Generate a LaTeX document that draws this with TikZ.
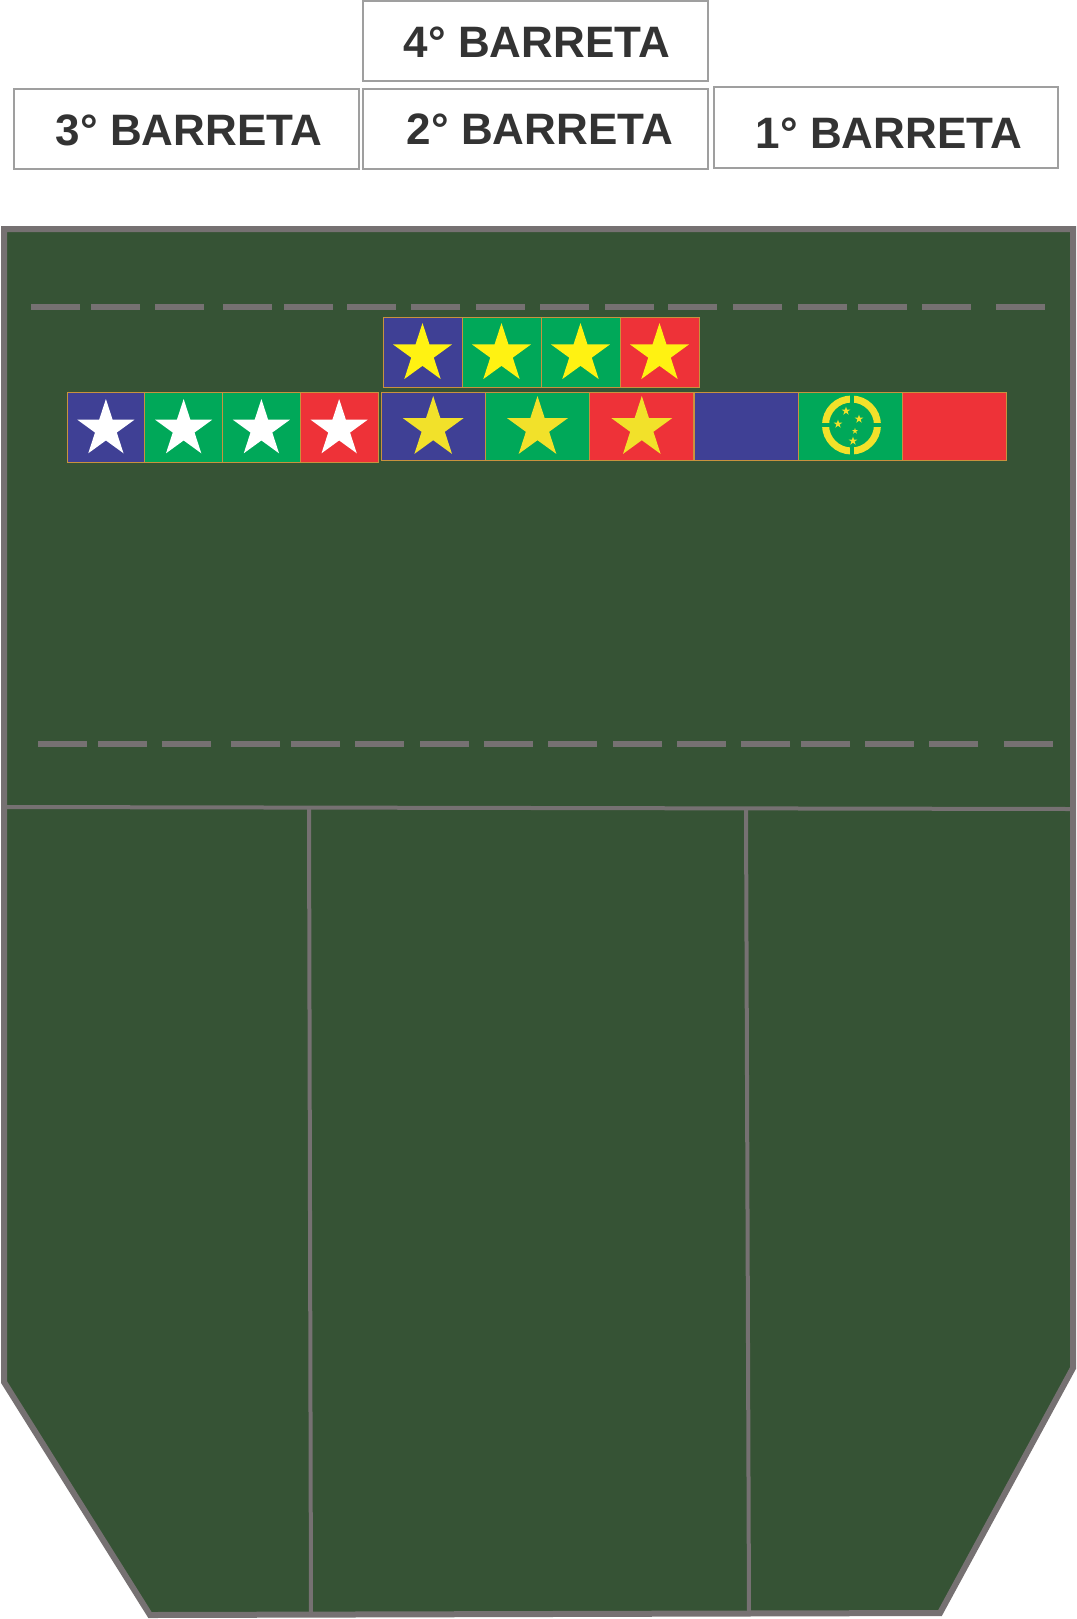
\documentclass[tikz,border=0pt]{standalone}
\usepackage{fontspec}
\setmainfont{Liberation Sans}
\usepackage{tikz}
\usetikzlibrary{shapes.geometric}
\definecolor{farda}{HTML}{365335}
\definecolor{contorno}{HTML}{767172}
\definecolor{azul}{HTML}{3F4095}
\definecolor{verde}{HTML}{00A859}
\definecolor{vermelho}{HTML}{EE3238}
\definecolor{amarelo}{HTML}{FFF212}
\definecolor{ouro}{HTML}{F2E12A}
\definecolor{borda}{HTML}{C8923E}
\definecolor{texto}{HTML}{333333}

\begin{document}
\begin{tikzpicture}[x=0.5pt, y=-0.5pt,
				   caixa/.style={draw=gray!75, line width=0.7pt},
				   rotulo/.style={text=texto, font=\fontsize{22}{26}\selectfont\bfseries, inner sep=0pt},
				   linha/.style={draw=contorno, line width=2pt},
				   tracejado/.style={draw=contorno, line width=3pt},
				   fita/.style={draw=borda, line width=0.5pt},
				   estrela/.style={star, star points=5, star point ratio=2.618, inner sep=0pt, minimum size=31pt}]
\useasboundingbox (0,0) rectangle (1077,1619);

\draw[caixa] (363,1) rectangle (708,81);
\draw[caixa] (14,89) rectangle (359,169);
\draw[caixa] (363,89) rectangle (708,169);
\draw[caixa] (714,87) rectangle (1058,168);
\node[rotulo] (b4) at (537,42) {4° BARRETA};
\node[rotulo] (b3) at (189,130) {3° BARRETA};
\node[rotulo] (b2) at (540,129) {2° BARRETA};
\node[rotulo] (b1) at (889,133) {1° BARRETA};

\draw[draw=contorno, line width=3pt, fill=farda] (4,229) -- (1073,229) -- (1073,1368) -- (940,1613) -- (150,1615) -- (4,1382) -- cycle;
\draw[linha] (4,807) -- (1073,809);
\draw[linha] (309,809) -- (311,1614);
\draw[linha] (746,809) -- (749,1612);

\foreach \xi in {31,91,155,223,284,347,411,476,540,605,668,733,798,858,922,996}
	\draw[tracejado] (\xi,307) -- ++(49,0);
\foreach \xi in {38,98,162,231,291,355,420,484,548,613,677,741,801,865,929,1004}
	\draw[tracejado] (\xi,744) -- ++(49,0);

\foreach \cor [count=\i from 0] in {azul,verde,verde,vermelho} {
	\draw[fita, fill=\cor] (383+79*\i,317) rectangle ++(79,70);
	\node[estrela, fill=amarelo] (q\i) at (422.5+79*\i,354) {};
}
\foreach \cor [count=\i from 0] in {azul,verde,verde,vermelho} {
	\draw[fita, fill=\cor] (67+77.75*\i,392) rectangle ++(77.75,70);
	\node[estrela, fill=white, minimum size=30pt] (t\i) at (105.9+77.75*\i,429) {};
}
\foreach \cor [count=\i from 0] in {azul,verde,vermelho} {
	\draw[fita, fill=\cor] (381+104.3*\i,392) rectangle ++(104.3,68);
	\node[estrela, fill=ouro, minimum size=32pt] (s\i) at (433.2+104.3*\i,428) {};
}
\foreach \cor [count=\i from 0] in {azul,verde,vermelho}
	\draw[fita, fill=\cor] (694+104.3*\i,392) rectangle ++(104.3,68);

\draw[ouro, line width=3.5pt] (851.5,425) circle (13pt);
\fill[verde] (849.5,393) rectangle (853.5,457);
\fill[verde] (819,423) rectangle (884,427);
\node[estrela, fill=ouro, minimum size=4.5pt] (c1) at (846,411) {};
\node[estrela, fill=ouro, minimum size=4.5pt] (c2) at (859,419) {};
\node[estrela, fill=ouro, minimum size=4.5pt] (c3) at (838,424) {};
\node[estrela, fill=ouro, minimum size=3.2pt] (c4) at (855,431) {};
\node[estrela, fill=ouro, minimum size=4.5pt] (c5) at (853,441) {};
\end{tikzpicture}
\end{document}
